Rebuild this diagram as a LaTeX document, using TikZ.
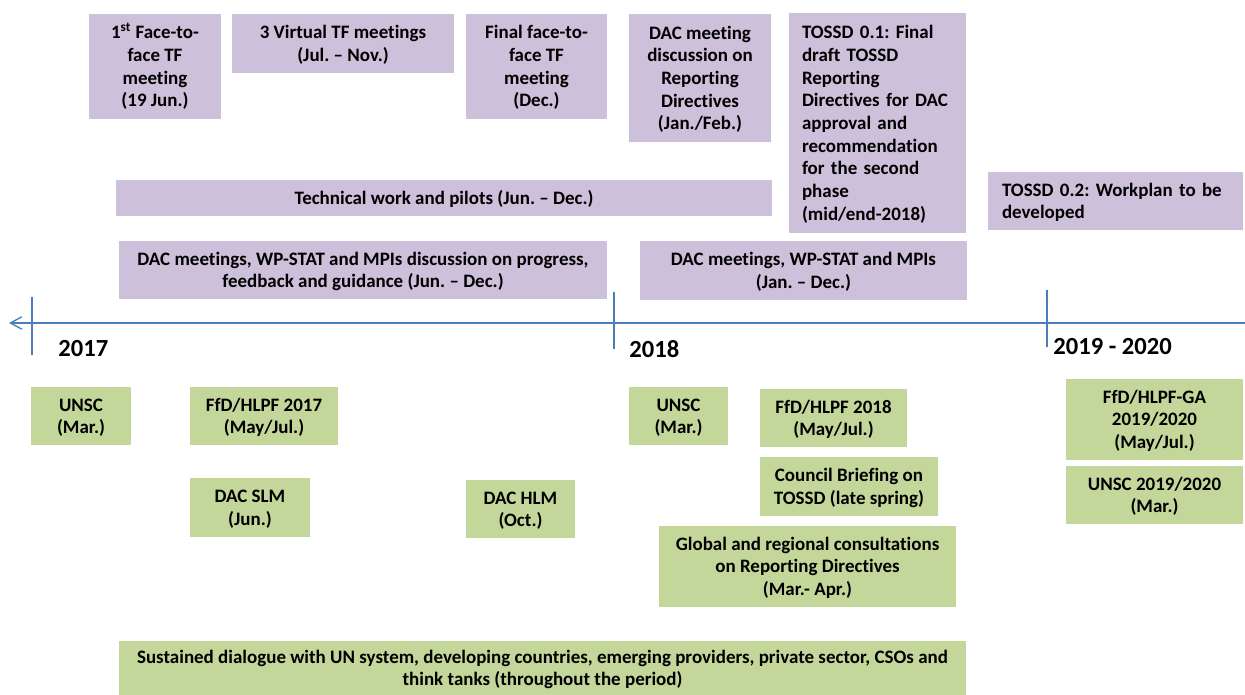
\documentclass[tikz,border=0pt]{standalone}
\usepackage{fontspec}
\setmainfont{Carlito}[Ligatures={TeX,NoCommon}]
\frenchspacing
\usetikzlibrary{arrows.meta}
\definecolor{tfColor}{HTML}{CCC0DA}
\definecolor{unColor}{HTML}{C4D79B}
\definecolor{axisColor}{HTML}{4A7EBB}
\newcommand{\evtfont}{\fontsize{10.8}{12.9}\selectfont\bfseries}
\newcommand{\yrfont}{\fontsize{14}{16}\selectfont\bfseries}
% box text: a taller first row so the letters sit in the middle of the box
\newenvironment{evtext}[1][c]{\begin{tabular}{@{}#1@{}}\rule{0pt}{11.2pt}\ignorespaces}{\end{tabular}}
\tikzset{
	evt/.style={rectangle, inner sep=0pt, outer sep=0pt, font=\evtfont},
	tfbox/.style={evt, fill=tfColor},
	unbox/.style={evt, fill=unColor},
	wh/.style 2 args={minimum width=#1*0.02cm, minimum height=#2*0.02cm},
	yr/.style={anchor=west, inner sep=0pt, font=\yrfont},
	axis/.style={draw=axisColor, line width=0.75pt}
}

\begin{document}
\begin{tikzpicture}[x=0.02cm, y=-0.02cm]
	\useasboundingbox (0,0) rectangle (1245,695);
	
	% task force / DAC track above the axis
	\node[tfbox, wh={132}{105}] (ftf1) at (155, 66.5) {\begin{evtext}
			1\textsuperscript{st} Face-to- \\ face TF \\ meeting \\ (19 Jun.)
	\end{evtext}};
	\node[tfbox, wh={222}{59}] (vtf) at (343, 43.5) {\begin{evtext}
			3 Virtual TF meetings \\ (Jul. -- Nov.)
	\end{evtext}};
	\node[tfbox, wh={141}{105}] (ftf2) at (536.5, 66.5) {\begin{evtext}
			Final face-to- \\ face TF \\ meeting \\ (Dec.)
	\end{evtext}};
	\node[tfbox, wh={142}{128}] (dacrd) at (700, 78) {\begin{evtext}
			DAC meeting \\ discussion on \\ Reporting \\ Directives \\ (Jan./Feb.)
	\end{evtext}};
	\node[tfbox, wh={177}{220}, text width=3.02cm, align=left] (tossd1) at (877.5, 123) {\begin{evtext}[l]
			TOSSD 0.1: Final \\ draft TOSSD \\ Reporting \\ Directives for DAC \\ approval and \\
			recommendation \\ for the second \\ phase \\ (mid/end-2018)
	\end{evtext}};
	\node[tfbox, wh={255}{58}, text width=4.54cm, align=left] (tossd2) at (1115.5, 201) {\begin{evtext}[l]
			TOSSD 0.2: Workplan to be \\ developed
	\end{evtext}};
	\node[tfbox, wh={656}{36}] (tech) at (444, 198) {\begin{evtext}
			Technical work and pilots (Jun. -- Dec.)
	\end{evtext}};
	\node[tfbox, wh={488}{58}] (dac17) at (363, 270) {\begin{evtext}
			DAC meetings, WP-STAT and MPIs discussion on progress, \\ feedback and guidance (Jun. -- Dec.)
	\end{evtext}};
	\node[tfbox, wh={327}{59}] (dac18) at (803.5, 270.5) {\begin{evtext}
			DAC meetings, WP-STAT and MPIs \\ (Jan. -- Dec.)
	\end{evtext}};
	
	% time axis
	\coordinate (axW) at (9, 323);
	\coordinate (axE) at (1245, 323);
	\draw[axis, {Straight Barb[length=6.5pt, width=7pt]}-] (axW) -- (axE);
	\foreach \tx/\ta/\tb in {32/297/355, 614/292/349, 1047/290/347}
		\draw[axis] (\tx, \ta) -- (\tx, \tb);
	\node[yr] (y17) at (58, 349) {2017};
	\node[yr] (y18) at (629, 349) {2018};
	\node[yr] (y1920) at (1053, 347) {2019 - 2020};
	
	% UN events below the axis
	\node[unbox, wh={100}{58}] (unsc17) at (81, 416) {\begin{evtext}
			UNSC \\ (Mar.)
	\end{evtext}};
	\node[unbox, wh={148}{58}] (hlpf17) at (264, 416) {\begin{evtext}
			FfD/HLPF 2017 \\ (May/Jul.)
	\end{evtext}};
	\node[unbox, wh={120}{59}] (slm) at (250, 507.5) {\begin{evtext}
			DAC SLM \\ (Jun.)
	\end{evtext}};
	\node[unbox, wh={109}{58}] (hlm) at (520.5, 509) {\begin{evtext}
			DAC HLM \\ (Oct.)
	\end{evtext}};
	\node[unbox, wh={99}{58}] (unsc18) at (678.5, 416) {\begin{evtext}
			UNSC \\ (Mar.)
	\end{evtext}};
	\node[unbox, wh={147}{58}] (hlpf18) at (833.5, 418) {\begin{evtext}
			FfD/HLPF 2018 \\ (May/Jul.)
	\end{evtext}};
	\node[unbox, wh={178}{59}] (council) at (849, 486.5) {\begin{evtext}
			Council Briefing on \\ TOSSD (late spring)
	\end{evtext}};
	\node[unbox, wh={297}{81}] (consult) at (807.5, 566.5) {\begin{evtext}
			Global and regional consultations \\ on Reporting Directives \\ (Mar.- Apr.)
	\end{evtext}};
	\node[unbox, wh={177}{81}] (hlpf1920) at (1154.5, 419.5) {\begin{evtext}
			FfD/HLPF-GA \\ 2019/2020 \\ (May/Jul.)
	\end{evtext}};
	\node[unbox, wh={177}{58}] (unsc1920) at (1154.5, 495) {\begin{evtext}
			UNSC 2019/2020 \\ (Mar.)
	\end{evtext}};
	\node[unbox, wh={847}{54}] (dialog) at (542.5, 668) {\begin{evtext}
			Sustained dialogue with UN system, developing countries, emerging providers, private sector, CSOs and \\
			think tanks (throughout the period)
	\end{evtext}};
\end{tikzpicture}
\end{document}
